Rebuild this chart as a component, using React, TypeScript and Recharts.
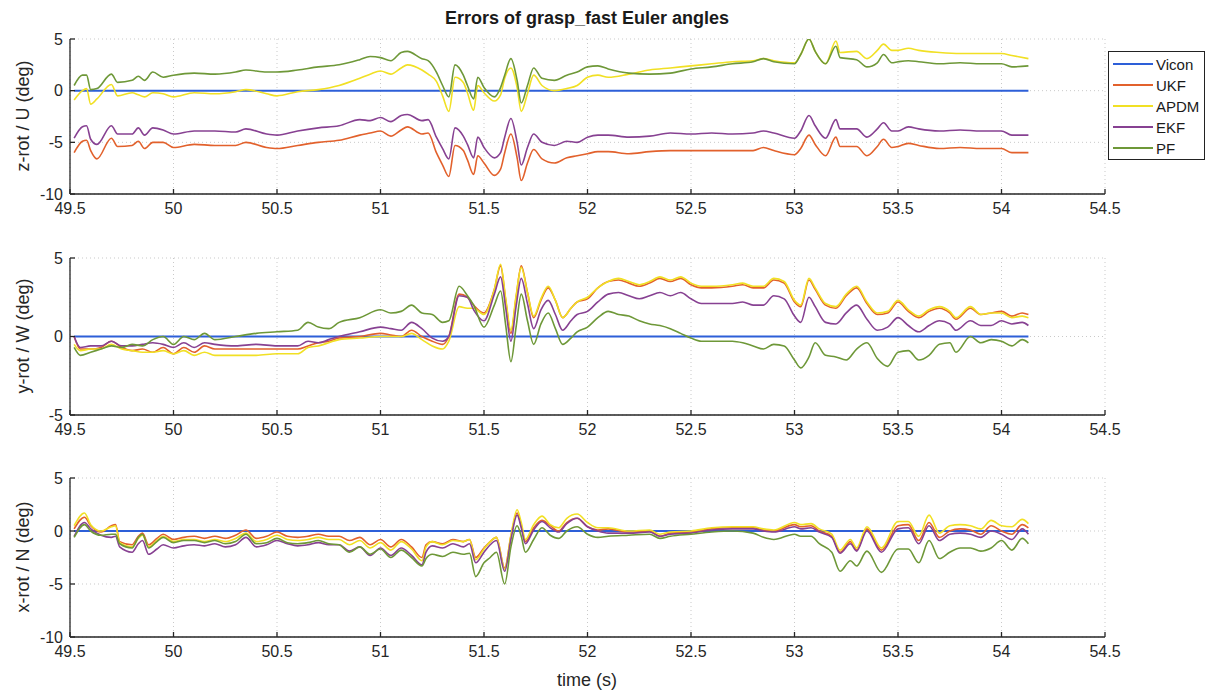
import { LineChart, Line, XAxis, YAxis, CartesianGrid } from 'recharts';

// time axis shared by all three panels
const X_TICKS = [49.5, 50, 50.5, 51, 51.5, 52, 52.5, 53, 53.5, 54, 54.5];

const SERIES = [
  { key: 'ukf', name: 'UKF', color: '#e2612c' },
  { key: 'apdm', name: 'APDM', color: '#f1e024' },
  { key: 'ekf', name: 'EKF', color: '#874192' },
  { key: 'pf', name: 'PF', color: '#6e9838' },
];
const VICON_COLOR = '#2d5fd8';

// Vicon is the reference, so its error is zero everywhere
const VICON_T = [49.52, 54.13];
const VICON_V = [0, 0];

// ---- z-rot / U ----
const T1 = [49.52, 49.56, 49.58, 49.6, 49.63, 49.7, 49.73, 49.8, 49.83, 49.86, 49.9, 49.95, 50.0, 50.1, 50.2, 50.3, 50.35, 50.45, 50.5, 50.6, 50.7, 50.8, 50.9, 50.95, 51.0, 51.05, 51.1, 51.13, 51.2, 51.23, 51.27, 51.3, 51.33, 51.36, 51.4, 51.42, 51.45, 51.47, 51.5, 51.55, 51.58, 51.6, 51.63, 51.66, 51.68, 51.71, 51.74, 51.78, 51.84, 51.9, 51.95, 52.0, 52.05, 52.1, 52.2, 52.3, 52.4, 52.5, 52.6, 52.7, 52.8, 52.85, 52.9, 53.0, 53.03, 53.07, 53.1, 53.15, 53.2, 53.22, 53.3, 53.35, 53.4, 53.43, 53.47, 53.5, 53.55, 53.6, 53.7, 53.8, 53.9, 54.0, 54.05, 54.13];
const UKF_1 = [-6.0, -4.9, -4.8, -5.8, -6.6, -4.6, -5.4, -5.3, -4.9, -5.6, -5.0, -5.0, -5.5, -5.2, -5.3, -5.3, -5.0, -5.5, -5.6, -5.3, -5.0, -4.8, -4.3, -4.1, -3.9, -4.4, -3.8, -3.5, -4.2, -4.1, -6.0, -7.2, -8.3, -5.3, -5.8, -6.7, -8.1, -6.3, -7.0, -8.2, -7.6, -6.0, -4.2, -6.5, -8.7, -7.0, -5.7, -6.6, -7.0, -6.5, -6.3, -6.1, -5.9, -5.9, -6.1, -5.9, -5.8, -5.8, -5.8, -5.8, -5.8, -5.5, -5.8, -6.2, -5.6, -4.3, -5.2, -6.3, -4.5, -5.4, -5.4, -6.3, -5.4, -4.7, -5.5, -5.4, -5.1, -5.3, -5.6, -5.5, -5.6, -5.6, -6.0, -6.0];
const APDM_1 = [-0.9, 0.0, 0.2, -1.3, -0.8, 0.6, -0.5, -0.2, -0.4, -0.6, -0.2, -0.3, -0.6, -0.2, -0.3, -0.1, 0.1, -0.3, -0.5, -0.1, 0.1, 0.5, 1.2, 1.6, 1.9, 1.6, 2.2, 2.5, 2.0, 1.6, 0.9, -0.5, -2.0, 1.3, 0.8, -0.2, -1.9, 0.5, -0.2, -1.0, -0.4, 1.2, 2.2, 0.3, -2.0, -0.3, 1.5, 0.5, 0.0, 0.2, 0.5, 1.3, 1.5, 1.3, 1.6, 2.0, 2.2, 2.4, 2.6, 2.8, 2.9, 3.1, 2.9, 2.7, 3.5, 5.0, 3.8, 2.6, 4.8, 3.7, 3.8, 3.1, 3.9, 4.5, 3.9, 3.9, 4.1, 3.9, 3.7, 3.6, 3.6, 3.6, 3.4, 3.1];
const EKF_1 = [-4.6, -3.5, -3.4, -4.7, -5.2, -3.4, -4.2, -4.2, -3.6, -4.3, -3.6, -3.8, -4.2, -3.9, -3.9, -4.0, -3.7, -4.2, -4.3, -3.9, -3.6, -3.4, -2.8, -2.9, -2.6, -3.0, -2.4, -2.3, -2.9, -2.8, -4.5, -5.6, -6.6, -3.6, -4.4, -5.2, -6.5, -4.5, -5.5, -6.5, -6.0, -4.5, -2.7, -5.0, -7.2, -5.5, -4.2, -5.0, -5.3, -4.9, -5.0, -4.5, -4.3, -4.3, -4.5, -4.4, -4.1, -4.2, -4.1, -4.2, -4.1, -3.9, -4.1, -4.6, -3.9, -2.4, -3.4, -4.6, -2.8, -3.7, -3.7, -4.5, -3.7, -3.1, -3.9, -3.9, -3.5, -3.7, -3.9, -3.8, -3.9, -3.9, -4.3, -4.3];
const PF_1 = [0.5, 1.5, 1.5, 0.1, 0.2, 1.6, 0.8, 1.0, 1.4, 1.0, 1.8, 1.3, 1.5, 1.7, 1.6, 1.8, 2.0, 1.8, 1.8, 2.0, 2.3, 2.5, 3.0, 3.3, 3.2, 2.9, 3.7, 3.8, 3.1, 2.9, 1.8, 0.5, -0.6, 2.5, 1.5, 0.5, -0.8, 1.3, 0.3, -0.6, 0.3, 1.5, 3.1, 1.0, -1.2, 0.5, 2.2, 1.2, 1.0, 1.5, 1.8, 2.3, 2.4, 2.1, 1.7, 1.6, 1.7, 2.1, 2.3, 2.6, 2.8, 3.1, 2.8, 2.6, 3.5, 5.0, 3.8, 2.6, 4.3, 3.2, 3.0, 2.3, 2.7, 3.5, 2.7, 2.8, 2.9, 2.8, 2.6, 2.7, 2.6, 2.6, 2.3, 2.4];

// ---- y-rot / W ----
const T2 = [49.52, 49.55, 49.6, 49.65, 49.7, 49.75, 49.8, 49.85, 49.9, 49.95, 50.0, 50.05, 50.1, 50.15, 50.2, 50.3, 50.4, 50.5, 50.6, 50.65, 50.7, 50.75, 50.8, 50.9, 51.0, 51.05, 51.1, 51.15, 51.2, 51.25, 51.3, 51.33, 51.38, 51.42, 51.45, 51.5, 51.55, 51.58, 51.605, 51.63, 51.655, 51.68, 51.71, 51.74, 51.775, 51.81, 51.845, 51.88, 51.92, 51.95, 52.0, 52.05, 52.1, 52.15, 52.2, 52.25, 52.3, 52.35, 52.4, 52.45, 52.5, 52.55, 52.6, 52.7, 52.75, 52.8, 52.85, 52.9, 52.95, 53.0, 53.03, 53.07, 53.1, 53.15, 53.2, 53.25, 53.3, 53.35, 53.4, 53.45, 53.5, 53.55, 53.6, 53.65, 53.7, 53.75, 53.78, 53.85, 53.9, 53.95, 54.0, 54.05, 54.1, 54.13];
const UKF_2 = [0.0, -0.8, -0.8, -0.7, -0.3, -0.7, -0.9, -0.8, -1.0, -0.7, -1.1, -0.7, -1.0, -0.6, -0.8, -0.8, -0.8, -0.8, -0.8, -0.6, -0.4, -0.3, -0.1, 0.0, 0.2, 0.1, 0.0, 0.4, 0.0, -0.3, -0.5, 0.0, 2.7, 2.5, 2.0, 1.5, 3.0, 4.5, 2.3, 0.2, 2.5, 4.5, 2.8, 1.2, 2.3, 3.1, 2.3, 1.2, 1.8, 2.2, 2.4, 3.1, 3.5, 3.6, 3.4, 3.2, 3.4, 3.7, 3.5, 3.7, 3.3, 3.1, 3.1, 3.2, 3.3, 3.1, 3.1, 3.6, 3.4, 2.2, 1.9, 3.6, 3.0, 2.0, 1.8, 2.6, 3.1, 2.1, 1.4, 1.5, 2.2, 1.6, 1.2, 1.6, 1.8, 1.5, 1.1, 1.8, 1.4, 1.5, 1.6, 1.3, 1.5, 1.4];
const APDM_2 = [-0.5, -0.9, -0.8, -0.8, -0.5, -0.8, -0.9, -1.0, -1.0, -0.9, -1.1, -0.9, -1.2, -1.0, -1.2, -1.2, -1.2, -1.1, -1.1, -0.7, -0.6, -0.4, -0.2, -0.1, 0.0, 0.0, 0.0, 0.2, -0.2, -0.6, -0.8, -0.3, 1.9, 1.8, 1.8, 1.4, 3.0, 4.6, 2.4, 0.4, 2.6, 4.4, 2.8, 1.3, 2.4, 3.2, 2.3, 1.2, 1.8, 2.2, 2.5, 3.1, 3.5, 3.7, 3.5, 3.3, 3.5, 3.8, 3.6, 3.8, 3.4, 3.2, 3.2, 3.3, 3.4, 3.2, 3.2, 3.7, 3.5, 2.3, 2.0, 3.7, 3.1, 2.1, 1.9, 2.7, 3.2, 2.2, 1.5, 1.6, 2.3, 1.7, 1.3, 1.7, 1.9, 1.6, 1.2, 1.9, 1.4, 1.5, 1.5, 1.2, 1.3, 1.2];
const EKF_2 = [0.0, -0.7, -0.6, -0.6, -0.3, -0.6, -0.6, -0.5, -0.4, -0.5, -0.7, -0.4, -0.7, -0.4, -0.5, -0.6, -0.5, -0.6, -0.6, -0.3, -0.4, -0.2, 0.0, 0.3, 0.6, 0.5, 0.4, 0.9, 0.5, -0.1, -0.3, 0.0, 2.6, 2.5, 1.7, 1.0, 2.7, 3.8, 1.8, -0.3, 1.9, 3.7, 2.1, 0.5, 1.7, 2.3, 1.4, 0.4, 1.0, 1.4, 1.6, 2.2, 2.7, 2.8, 2.6, 2.4, 2.6, 2.8, 2.6, 2.8, 2.4, 2.1, 2.1, 2.1, 2.2, 2.0, 2.0, 2.6, 2.4, 1.3, 0.9, 2.5, 1.9, 0.9, 0.8, 1.5, 2.0, 1.1, 0.4, 0.6, 1.2, 0.7, 0.3, 0.7, 1.0, 0.8, 0.4, 1.0, 0.7, 0.7, 1.0, 0.8, 0.9, 0.7];
const PF_2 = [-0.7, -1.2, -1.0, -0.8, -0.6, -0.7, -0.5, -0.6, -0.2, 0.0, -0.5, 0.0, -0.2, 0.2, -0.2, 0.0, 0.2, 0.3, 0.4, 0.9, 0.6, 0.5, 0.9, 1.2, 1.7, 1.5, 1.6, 2.0, 1.5, 1.4, 0.9, 1.0, 3.2, 2.6, 2.0, 0.6, 2.0, 2.9, 0.7, -1.6, 0.6, 2.7, 1.0, -0.5, 0.8, 1.5, 0.5, -0.5, -0.1, 0.3, 0.6, 1.2, 1.6, 1.4, 1.3, 1.0, 0.8, 0.7, 0.5, 0.2, -0.1, -0.3, -0.3, -0.3, -0.4, -0.6, -0.8, -0.5, -0.6, -1.5, -2.0, -1.3, -0.4, -1.2, -1.3, -1.5, -0.8, -0.4, -1.4, -1.9, -1.0, -0.9, -1.5, -1.2, -0.5, -0.4, -1.0, 0.0, -0.4, -0.2, -0.3, -0.6, -0.2, -0.4];

// ---- x-rot / N ----
const T3 = [49.52, 49.57, 49.6, 49.65, 49.7, 49.72, 49.74, 49.8, 49.83, 49.85, 49.88, 49.92, 49.95, 50.0, 50.05, 50.1, 50.15, 50.2, 50.25, 50.3, 50.35, 50.4, 50.45, 50.5, 50.55, 50.6, 50.65, 50.7, 50.75, 50.8, 50.85, 50.9, 50.95, 51.0, 51.05, 51.1, 51.15, 51.2, 51.22, 51.25, 51.3, 51.35, 51.4, 51.43, 51.46, 51.5, 51.53, 51.56, 51.6, 51.63, 51.66, 51.68, 51.7, 51.74, 51.78, 51.82, 51.86, 51.9, 51.95, 52.0, 52.05, 52.1, 52.2, 52.3, 52.35, 52.4, 52.5, 52.6, 52.7, 52.8, 52.85, 52.9, 53.0, 53.03, 53.08, 53.12, 53.18, 53.22, 53.27, 53.3, 53.35, 53.42, 53.5, 53.55, 53.6, 53.65, 53.7, 53.75, 53.8, 53.85, 53.9, 53.95, 54.0, 54.05, 54.1, 54.13];
const UKF_3 = [0.2, 1.3, 0.5, -0.1, 0.5, 0.6, -1.0, -1.3, -0.5, -0.2, -1.3, -0.7, -0.3, -0.8, -0.6, -0.5, -0.7, -0.5, -0.7, -0.4, 0.1, -0.7, -0.5, -0.1, -0.5, -0.6, -0.5, -0.3, -0.5, -0.5, -0.9, -0.6, -1.3, -0.8, -1.5, -0.8, -1.5, -2.5, -1.3, -1.0, -1.2, -0.8, -1.0, -0.8, -2.5, -1.6, -1.0, -0.6, -3.5, -0.5, 1.7, 0.5, -1.0, 0.3, 1.0, 0.5, 0.0, 0.8, 1.2, 0.4, 0.1, 0.2, -0.1, 0.0, -0.5, -0.2, -0.1, 0.2, 0.3, 0.3, 0.1, 0.0, 0.6, 0.4, 0.5, 0.0, -0.5, -2.0, -1.0, -1.8, 0.2, -1.8, 0.5, 0.6, -0.9, 0.8, -0.6, 0.0, 0.2, 0.1, -0.3, 0.5, 0.0, -0.3, 0.6, 0.3];
const APDM_3 = [0.5, 1.7, 0.6, 0.0, 0.4, 0.5, -1.1, -1.5, -0.7, -0.4, -1.5, -0.9, -0.5, -1.0, -0.8, -0.8, -1.0, -0.8, -1.0, -0.7, -0.2, -1.0, -0.8, -0.4, -0.8, -0.9, -0.8, -0.6, -0.8, -0.8, -1.3, -0.9, -1.6, -1.1, -1.8, -1.0, -1.7, -2.8, -1.5, -1.0, -1.3, -0.9, -1.0, -0.8, -2.7, -1.7, -1.0, -0.6, -3.6, -0.4, 2.0, 0.8, -0.8, 0.6, 1.4, 0.6, 0.3, 1.2, 1.6, 0.8, 0.3, 0.3, 0.0, 0.1, -0.3, -0.1, 0.0, 0.3, 0.4, 0.4, 0.2, 0.1, 0.8, 0.6, 0.7, 0.2, -0.3, -1.8, -0.8, -1.6, 0.4, -1.6, 0.9, 0.9, -0.5, 1.5, -0.2, 0.5, 0.6, 0.5, 0.2, 1.0, 0.5, 0.4, 1.1, 0.7];
const EKF_3 = [-0.5, 0.8, 0.2, -0.4, -0.6, -0.5, -1.5, -2.0, -1.2, -0.9, -2.2, -1.7, -1.3, -1.6, -1.4, -1.3, -1.4, -1.2, -1.5, -1.3, -0.6, -1.5, -1.3, -0.9, -1.2, -1.4, -1.3, -1.1, -1.3, -1.3, -1.9, -1.5, -2.3, -1.6, -2.3, -1.6, -2.3, -3.2, -2.0, -1.4, -1.6, -1.2, -1.5, -1.2, -3.0, -2.0, -1.3, -0.9, -3.8, -0.8, 1.5, 0.3, -1.2, 0.1, 0.9, 0.3, -0.1, 0.7, 1.2, 0.4, 0.0, -0.2, -0.2, -0.1, -0.5, -0.3, -0.2, 0.1, 0.2, 0.2, 0.0, -0.1, 0.4, 0.2, 0.3, -0.1, -0.6, -2.1, -1.2, -1.9, 0.0, -2.0, 0.2, 0.3, -1.2, 0.5, -0.9, -0.3, -0.2, -0.3, -0.6, 0.0, -0.3, -0.8, 0.2, -0.3];
const PF_3 = [-0.6, 0.6, 0.0, -0.4, -0.3, -0.3, -1.2, -1.6, -0.6, -0.3, -1.6, -1.0, -0.6, -1.1, -0.9, -0.9, -1.1, -0.9, -1.2, -1.0, -0.3, -1.2, -1.1, -0.7, -1.1, -1.2, -1.1, -0.9, -1.2, -1.3, -2.0, -1.5, -2.2, -1.7, -2.5, -1.8, -2.5, -3.3, -2.6, -2.2, -2.4, -2.0, -2.2, -2.1, -4.3, -3.0, -2.5, -2.0, -5.0, -1.5, 0.5, -0.5, -2.0, -0.8, 0.3, -0.4, -0.7, 0.0, 0.4, -0.3, -0.6, -0.5, -0.4, -0.3, -0.7, -0.5, -0.3, -0.1, 0.0, -0.2, -0.6, -0.8, -0.3, -0.5, -0.5, -1.2, -2.0, -3.8, -2.8, -3.3, -1.9, -3.9, -1.7, -1.7, -3.0, -0.9, -2.6, -2.0, -1.6, -1.6, -1.9, -1.6, -0.9, -1.8, -0.7, -1.2];

const buildRows = (t: number[], ukf: number[], apdm: number[], ekf: number[], pf: number[]) =>
  t.map((v, i) => ({ t: v, ukf: ukf[i], apdm: apdm[i], ekf: ekf[i], pf: pf[i] }));

const viconRows = VICON_T.map((t, i) => ({ t, vicon: VICON_V[i] }));

const FONT = '"Liberation Sans", Arial, Helvetica, sans-serif';
const AXIS_COLOR = '#262626';
const tickStyle = { fontSize: 16, fill: '#262626', fontFamily: FONT };

interface PanelProps {
  rows: { t: number; ukf: number; apdm: number; ekf: number; pf: number }[];
  yDomain: [number, number];
  yTicks: number[];
  top: number;
  height: number;
  marginTop: number;
  marginBottom: number;
}

function Panel({ rows, yDomain, yTicks, top, height, marginTop, marginBottom }: PanelProps) {
  return (
    <div style={{ position: 'absolute', left: 0, top, width: 1210, height }}>
      <LineChart
        width={1210}
        height={height}
        data={rows}
        margin={{ top: marginTop, right: 105, bottom: marginBottom, left: 20 }}
      >
        <CartesianGrid stroke="#c9c9c9" strokeDasharray="1 3" />
        <XAxis
          dataKey="t"
          type="number"
          domain={[49.5, 54.5]}
          ticks={X_TICKS}
          interval={0}
          height={30}
          tick={tickStyle}
          tickSize={-5}
          tickMargin={14}
          stroke={AXIS_COLOR}
          strokeWidth={1.3}
          allowDataOverflow
        />
        <YAxis
          type="number"
          domain={yDomain}
          ticks={yTicks}
          interval={0}
          width={50}
          tick={tickStyle}
          tickSize={-5}
          tickMargin={12}
          stroke={AXIS_COLOR}
          strokeWidth={1.3}
          allowDataOverflow
        />
        <Line
          data={viconRows}
          dataKey="vicon"
          stroke={VICON_COLOR}
          strokeWidth={2}
          dot={false}
          isAnimationActive={false}
        />
        {SERIES.map((s) => (
          <Line
            key={s.key}
            dataKey={s.key}
            type="monotone"
            stroke={s.color}
            strokeWidth={1.6}
            dot={false}
            isAnimationActive={false}
          />
        ))}
      </LineChart>
    </div>
  );
}

const yLabelStyle = (cy: number): React.CSSProperties => ({
  position: 'absolute',
  left: 23,
  top: cy,
  transform: 'translate(-50%, -50%) rotate(-90deg)',
  whiteSpace: 'nowrap',
  fontFamily: FONT,
  fontSize: 18,
  color: '#262626',
});

export default function App() {
  const rows1 = buildRows(T1, UKF_1, APDM_1, EKF_1, PF_1);
  const rows2 = buildRows(T2, UKF_2, APDM_2, EKF_2, PF_2);
  const rows3 = buildRows(T3, UKF_3, APDM_3, EKF_3, PF_3);

  return (
    <div
      style={{
        position: 'absolute',
        left: 0,
        top: 0,
        width: 1210,
        height: 696,
        background: '#fff',
        overflow: 'hidden',
        fontFamily: FONT,
      }}
    >
      <div
        style={{
          position: 'absolute',
          left: 587,
          top: 18,
          transform: 'translate(-50%, -50%)',
          whiteSpace: 'nowrap',
          fontWeight: 700,
          fontSize: 18,
          color: '#1a1a1a',
        }}
      >
        Errors of grasp_fast Euler angles
      </div>

      <Panel rows={rows1} yDomain={[-10, 5]} yTicks={[-10, -5, 0, 5]} top={0} height={230} marginTop={39} marginBottom={6} />
      <Panel rows={rows2} yDomain={[-5, 5]} yTicks={[-5, 0, 5]} top={235} height={215} marginTop={23} marginBottom={5} />
      <Panel rows={rows3} yDomain={[-10, 5]} yTicks={[-10, -5, 0, 5]} top={455} height={241} marginTop={23} marginBottom={29} />

      <div style={yLabelStyle(116)}>z-rot / U (deg)</div>
      <div style={yLabelStyle(336)}>y-rot / W (deg)</div>
      <div style={yLabelStyle(557)}>x-rot / N (deg)</div>

      <div
        style={{
          position: 'absolute',
          left: 587,
          top: 680,
          transform: 'translate(-50%, -50%)',
          whiteSpace: 'nowrap',
          fontSize: 18,
          color: '#262626',
        }}
      >
        time (s)
      </div>

      {/* legend box */}
      <div
        style={{
          position: 'absolute',
          left: 1108,
          top: 51,
          width: 95,
          height: 107,
          border: '1.5px solid #222',
          background: '#fff',
        }}
      >
        {[{ name: 'Vicon', color: VICON_COLOR }, ...SERIES].map((s, i) => (
          <div
            key={s.name}
            style={{
              position: 'absolute',
              left: 4,
              top: 2 + i * 21,
              height: 20,
              display: 'flex',
              alignItems: 'center',
              fontSize: 15,
              color: '#1a1a1a',
            }}
          >
            <span style={{ display: 'inline-block', width: 40, height: 0, borderTop: `2px solid ${s.color}`, marginRight: 3 }} />
            {s.name}
          </div>
        ))}
      </div>
    </div>
  );
}
